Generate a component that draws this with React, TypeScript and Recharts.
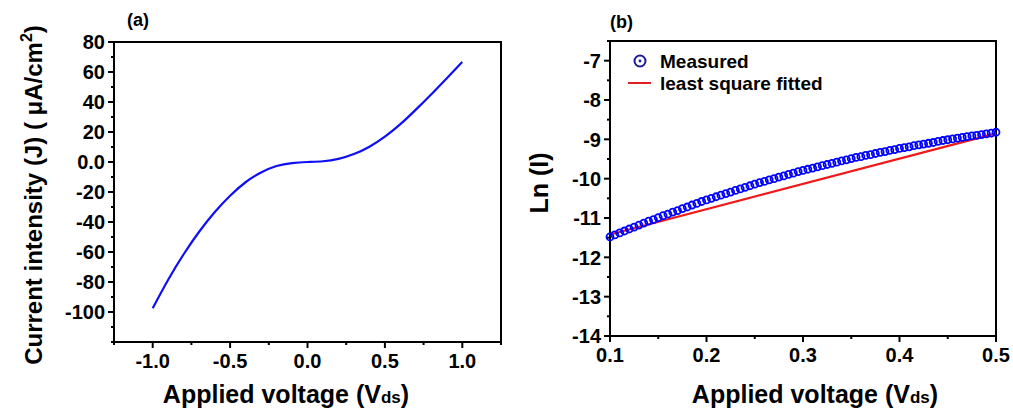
import React from 'react';
import { LineChart, Line, XAxis, YAxis, ReferenceArea } from 'recharts';

// panel (a): J-V curve
const voltageA = [-1.0, -0.9, -0.8, -0.7, -0.6, -0.5, -0.4, -0.3, -0.2, -0.1, 0.0, 0.1, 0.2, 0.3, 0.4, 0.5, 0.6, 0.7, 0.8, 0.9, 1.0];
const currentA = [-97.5, -78.5, -61.5, -46.5, -33.5, -22.5, -13.5, -7.0, -2.7, -0.7, 0, 0.5, 2.1, 5.3, 10.2, 16.9, 25.2, 34.9, 45.2, 55.9, 66.7];

const xMajorA = [-1.0, -0.5, 0, 0.5, 1.0];
const xMinorA = [-1.25, -0.75, -0.25, 0.25, 0.75, 1.25];
const yMajorA = [-100, -80, -60, -40, -20, 0, 20, 40, 60, 80];
const yMinorA = [-120, -110, -90, -70, -50, -30, -10, 10, 30, 50, 70];

// panel (b): Ln(I) vs V
const voltageB = [
  0.1, 0.105, 0.11, 0.115, 0.12, 0.125, 0.13, 0.135, 0.14, 0.145,
  0.15, 0.155, 0.16, 0.165, 0.17, 0.175, 0.18, 0.185, 0.19, 0.195,
  0.2, 0.205, 0.21, 0.215, 0.22, 0.225, 0.23, 0.235, 0.24, 0.245,
  0.25, 0.255, 0.26, 0.265, 0.27, 0.275, 0.28, 0.285, 0.29, 0.295,
  0.3, 0.305, 0.31, 0.315, 0.32, 0.325, 0.33, 0.335, 0.34, 0.345,
  0.35, 0.355, 0.36, 0.365, 0.37, 0.375, 0.38, 0.385, 0.39, 0.395,
  0.4, 0.405, 0.41, 0.415, 0.42, 0.425, 0.43, 0.435, 0.44, 0.445,
  0.45, 0.455, 0.46, 0.465, 0.47, 0.475, 0.48, 0.485, 0.49, 0.495,
  0.5,
];
const lnIMeasured = [
  -11.48, -11.43, -11.38, -11.33, -11.28, -11.23, -11.18, -11.13, -11.08, -11.04,
  -10.99, -10.94, -10.9, -10.85, -10.81, -10.76, -10.72, -10.67, -10.63, -10.58,
  -10.54, -10.5, -10.46, -10.42, -10.38, -10.34, -10.3, -10.26, -10.22, -10.18,
  -10.14, -10.1, -10.07, -10.03, -10.0, -9.96, -9.93, -9.89, -9.86, -9.82,
  -9.79, -9.76, -9.73, -9.7, -9.67, -9.64, -9.61, -9.58, -9.55, -9.52,
  -9.49, -9.46, -9.44, -9.41, -9.39, -9.36, -9.33, -9.31, -9.28, -9.26,
  -9.23, -9.21, -9.19, -9.16, -9.14, -9.12, -9.1, -9.08, -9.05, -9.03,
  -9.01, -8.99, -8.97, -8.95, -8.93, -8.91, -8.9, -8.88, -8.86, -8.84,
  -8.82,
];
const voltageFit = [0.1, 0.5];
const lnIFit = [-11.42, -8.85];

const xMajorB = [0.1, 0.2, 0.3, 0.4, 0.5];
const xMinorB = [0.15, 0.25, 0.35, 0.45];
const yMajorB = [-14, -13, -12, -11, -10, -9, -8, -7];
const yMinorB = [-13.5, -12.5, -11.5, -10.5, -9.5, -8.5, -7.5, -6.5];

const FONT = '"Liberation Sans", Arial, sans-serif';

const dataA = voltageA.map((v, i) => ({ v, j: currentA[i] }));
const measuredB = voltageB.map((v, i) => ({ v, ln: lnIMeasured[i] }));
const fitB = voltageFit.map((v, i) => ({ v, ln: lnIFit[i] }));

function makeTick(side: 'left' | 'bottom', majors: number[], fmt: (v: number) => string) {
  return (props: any) => {
    const { x, y, payload } = props;
    const val = payload.value;
    const major = majors.some((m) => Math.abs(m - val) < 1e-9);
    const len = major ? 6 : 3;
    if (side === 'left') {
      return (
        <g>
          <line x1={x - len} x2={x} y1={y} y2={y} stroke="#000" strokeWidth={2} />
          {major && (
            <text x={x - 9} y={y} dy="0.36em" textAnchor="end" fontFamily={FONT} fontWeight="bold" fontSize={20} fill="#000">
              {fmt(val)}
            </text>
          )}
        </g>
      );
    }
    return (
      <g>
        <line x1={x} x2={x} y1={y} y2={y + len} stroke="#000" strokeWidth={2} />
        {major && (
          <text x={x} y={y + 26} textAnchor="middle" fontFamily={FONT} fontWeight="bold" fontSize={20} fill="#000">
            {fmt(val)}
          </text>
        )}
      </g>
    );
  };
}

const textStyle = { fontFamily: FONT, fontWeight: 'bold' as const, fill: '#000' };

function PanelA() {
  return (
    <LineChart width={505} height={410} data={dataA} margin={{ top: 42, right: 4, bottom: 0, left: 0 }}>
      <XAxis
        dataKey="v"
        type="number"
        domain={[-1.25, 1.25]}
        ticks={[...xMajorA, ...xMinorA]}
        interval={0}
        height={68}
        tickSize={0}
        tickMargin={0}
        axisLine={{ stroke: '#000', strokeWidth: 2 }}
        tick={makeTick('bottom', xMajorA, (v) => v.toFixed(1))}
      />
      <YAxis
        type="number"
        domain={[-120, 80]}
        ticks={[...yMajorA, ...yMinorA]}
        interval={0}
        width={114}
        tickSize={0}
        tickMargin={0}
        axisLine={{ stroke: '#000', strokeWidth: 2 }}
        tick={makeTick('left', yMajorA, (v) => (v === 0 ? '0.0' : String(v)))}
      />
      <ReferenceArea x1={-1.25} x2={1.25} y1={-120} y2={80} fill="none" stroke="#000" strokeWidth={2} />
      <Line type="natural" dataKey="j" stroke="#0f0ff5" strokeWidth={2.2} dot={false} isAnimationActive={false} />
      <text x={127} y={26} fontSize={18} {...textStyle}>(a)</text>
      <text x={42} y={195} transform="rotate(-90, 42, 195)" textAnchor="middle" fontSize={24} {...textStyle}>
        Current intensity (J) ( μA/cm<tspan dy={-10} fontSize={16}>2</tspan><tspan dy={10}>)</tspan>
      </text>
      <text x={286} y={403} textAnchor="middle" fontSize={25} {...textStyle}>
        Applied voltage (V<tspan fontSize={17}>ds</tspan>)
      </text>
    </LineChart>
  );
}

function PanelB() {
  return (
    <LineChart width={508} height={410} margin={{ top: 41, right: 17, bottom: 0, left: 0 }}>
      <XAxis
        dataKey="v"
        type="number"
        domain={[0.1, 0.5]}
        ticks={[...xMajorB, ...xMinorB]}
        interval={0}
        height={74}
        tickSize={0}
        tickMargin={0}
        allowDuplicatedCategory={false}
        axisLine={{ stroke: '#000', strokeWidth: 2 }}
        tick={makeTick('bottom', xMajorB, (v) => v.toFixed(1))}
      />
      <YAxis
        type="number"
        domain={[-14, -6.5]}
        ticks={[...yMajorB, ...yMinorB]}
        interval={0}
        width={105}
        tickSize={0}
        tickMargin={0}
        axisLine={{ stroke: '#000', strokeWidth: 2 }}
        tick={makeTick('left', yMajorB, (v) => String(v))}
      />
      <ReferenceArea x1={0.1} x2={0.5} y1={-14} y2={-6.5} fill="none" stroke="#000" strokeWidth={2} />
      <Line
        data={measuredB}
        dataKey="ln"
        stroke="none"
        dot={{ r: 3.5, stroke: '#0000ff', strokeWidth: 1.8, fill: 'none' }}
        activeDot={false}
        isAnimationActive={false}
      />
      <Line data={fitB} dataKey="ln" type="linear" stroke="#f01818" strokeWidth={2.2} dot={false} isAnimationActive={false} />
      <text x={105} y={28} fontSize={18} {...textStyle}>(b)</text>
      <text x={43} y={183} transform="rotate(-90, 43, 183)" textAnchor="middle" fontSize={25} {...textStyle}>
        Ln (I)
      </text>
      <text x={310} y={403} textAnchor="middle" fontSize={25} {...textStyle}>
        Applied voltage (V<tspan fontSize={17}>ds</tspan>)
      </text>
      {/* legend */}
      <circle cx={135} cy={61} r={5.5} fill="none" stroke="#1c1c9a" strokeWidth={2} />
      <circle cx={135} cy={61} r={1.4} fill="#1c1c9a" />
      <text x={155} y={68} fontSize={19} {...textStyle}>Measured</text>
      <line x1={123} x2={146} y1={83} y2={83} stroke="#e02020" strokeWidth={2} />
      <text x={155} y={90} fontSize={19} {...textStyle}>least square fitted</text>
    </LineChart>
  );
}

export default function App() {
  return (
    <div style={{ position: 'absolute', left: 0, top: 0, width: 1013, height: 410, background: '#fff' }}>
      <div style={{ position: 'absolute', left: 0, top: 0 }}>
        <PanelA />
      </div>
      <div style={{ position: 'absolute', left: 505, top: 0 }}>
        <PanelB />
      </div>
    </div>
  );
}
